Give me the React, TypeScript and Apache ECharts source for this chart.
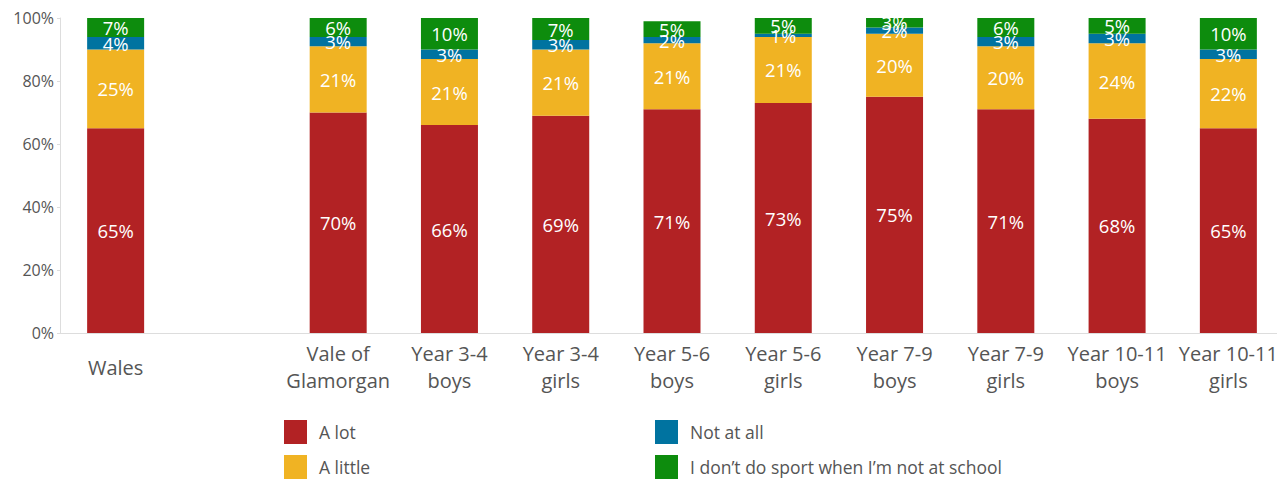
import React, { useEffect, useRef } from "react";
import * as echarts from "echarts";

const categories = [
  "Wales",
  "",
  "Vale of\nGlamorgan",
  "Year 3-4\nboys",
  "Year 3-4\ngirls",
  "Year 5-6\nboys",
  "Year 5-6\ngirls",
  "Year 7-9\nboys",
  "Year 7-9\ngirls",
  "Year 10-11\nboys",
  "Year 10-11\ngirls",
];

const aLot = [65, null, 70, 66, 69, 71, 73, 75, 71, 68, 65];
const aLittle = [25, null, 21, 21, 21, 21, 21, 20, 20, 24, 22];
const notAtAll = [4, null, 3, 3, 3, 2, 1, 2, 3, 3, 3];
const noSport = [7, null, 6, 10, 7, 5, 5, 3, 6, 5, 10];

const yTicks = [0, 20, 40, 60, 80, 100];

const seriesNames = ["A lot", "A little", "Not at all", "I don\u2019t do sport when I\u2019m not at school"];
const seriesColors = ["#B22224", "#F0B323", "#0073A0", "#0D8C0D"];

export default function App() {
  const ref = useRef<HTMLDivElement>(null);

  useEffect(() => {
    document.body.style.margin = "0";
    document.body.style.overflow = "hidden";
    document.documentElement.style.overflow = "hidden";
    if (!ref.current) return;
    const chart = echarts.init(ref.current, null, { renderer: "svg" });
    const font = "'Open Sans', 'Noto Sans', sans-serif";
    const datasets = [aLot, aLittle, notAtAll, noSport];
    const legendPos = [
      [284, 420],
      [284, 455],
      [655, 420],
      [655, 455],
    ];
    chart.setOption({
      animation: false,
      textStyle: { fontFamily: font },
      grid: { left: 60, top: 18, width: 1224, height: 315, containLabel: false },
      legend: seriesNames.map((n, i) => ({
        left: legendPos[i][0],
        top: legendPos[i][1],
        padding: 0,
        icon: "rect",
        itemWidth: 23,
        itemHeight: 24,
        data: [n],
        selectedMode: false,
        textStyle: { fontSize: 17.5, color: "#555", fontFamily: font, padding: [0, 0, 0, 7] },
      })),
      xAxis: {
        type: "category",
        data: categories,
        axisTick: { show: false },
        axisLine: { show: true, lineStyle: { color: "#ddd", width: 1 } },
        axisLabel: {
          interval: 0,
          fontSize: 20,
          lineHeight: 27,
          color: "#555",
          fontFamily: font,
          verticalAlign: "middle",
          margin: 34,
        },
      },
      yAxis: {
        type: "value",
        min: yTicks[0],
        max: yTicks[yTicks.length - 1],
        interval: 20,
        splitLine: { show: false },
        axisLine: { show: true, lineStyle: { color: "#ddd", width: 1 } },
        axisTick: { show: true, length: 3, lineStyle: { color: "#ddd" } },
        axisLabel: {
          formatter: "{value}%",
          fontSize: 16,
          color: "#555",
          fontFamily: font,
          margin: 6,
        },
      },
      series: datasets.map((d, i) => ({
        name: seriesNames[i],
        type: "bar",
        stack: "total",
        barWidth: 57,
        data: d,
        itemStyle: { color: seriesColors[i] },
        label: {
          show: true,
          position: "inside",
          formatter: "{c}%",
          color: "#fff",
          fontSize: 18.5,
          fontFamily: font,
        },
      })),
    });
    return () => chart.dispose();
  }, []);

  return <div ref={ref} style={{ width: 1285, height: 479 }} />;
}
